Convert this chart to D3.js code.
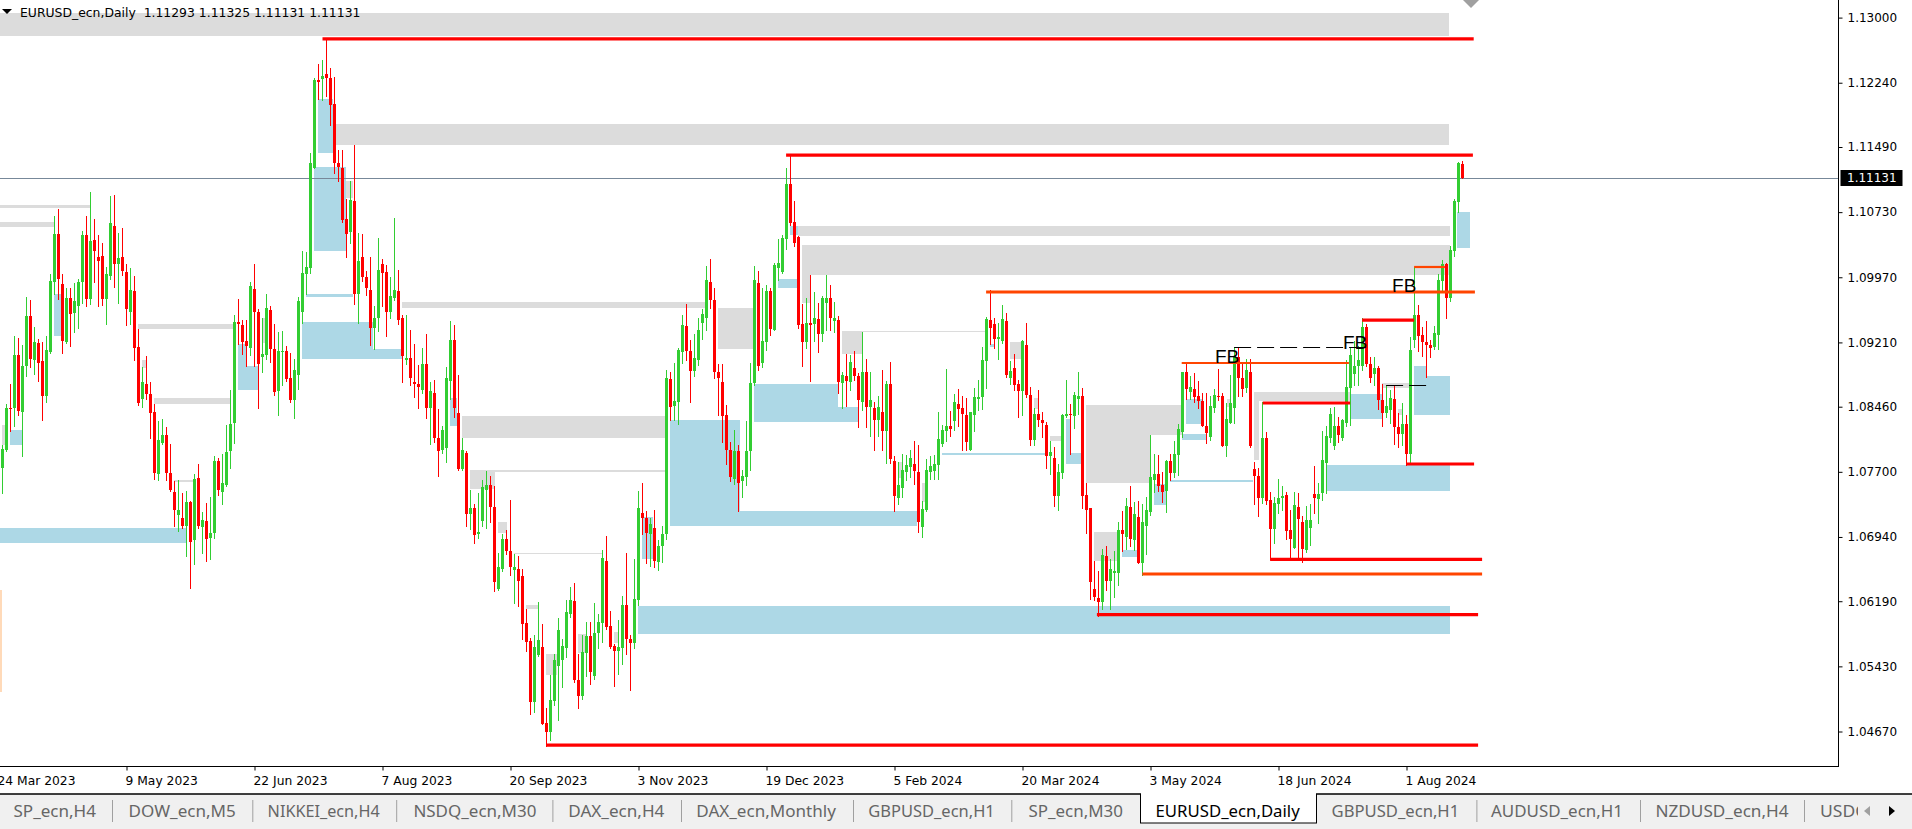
<!DOCTYPE html>
<html><head><meta charset="utf-8">
<script src="https://cdn.jsdelivr.net/npm/d3@7"></script>
<style>
html,body{margin:0;padding:0;background:#fff;overflow:hidden}
svg{display:block}
</style></head><body>
<script>
// ---------- DATA: daily EURUSD candles (bar 0 = 27 Mar 2023 ... bar 365 = 21 Aug 2024) ----------
const openP = [
1.0775,1.0795,1.0845,1.0844,1.0906,1.0840,1.0893,1.0952,1.0901,1.0920,
1.0899,1.0858,1.0910,1.0992,1.1048,1.0989,1.0922,1.0973,1.0955,1.0964,
1.0991,1.1046,1.0972,1.1041,1.1021,1.1022,1.0972,1.0998,1.1057,1.1012,
1.1021,1.1003,1.0956,1.0981,1.0916,1.0855,1.0872,1.0861,1.0840,1.0768,
1.0804,1.0813,1.0769,1.0746,1.0720,1.0716,1.0707,1.0735,1.0690,1.0763,
1.0706,1.0713,1.0693,1.0699,1.0783,1.0746,1.0755,1.0794,1.0827,1.0945,
1.0941,1.0923,1.0915,1.0983,1.0956,1.0904,1.0906,1.0959,1.0913,1.0864,
1.0910,1.0911,1.0880,1.0854,1.0883,1.0956,1.1001,1.1008,1.1125,1.1227,
1.1228,1.1234,1.1230,1.1199,1.1130,1.1124,1.1065,1.1050,1.1086,1.0977,
1.1021,1.0997,1.0982,1.0938,1.0949,1.1013,1.1003,1.0956,1.0973,1.0981,
1.0950,1.0900,1.0903,1.0875,1.0872,1.0865,1.0896,1.0845,1.0862,1.0810,
1.0795,1.0798,1.0876,1.0924,1.0839,1.0773,1.0792,1.0721,1.0728,1.0697,
1.0713,1.0749,1.0755,1.0729,1.0633,1.0657,1.0692,1.0678,1.0655,1.0657,
1.0648,1.0594,1.0573,1.0501,1.0556,1.0566,1.0477,1.0466,1.0503,1.0543,
1.0550,1.0565,1.0604,1.0619,1.0527,1.0508,1.0559,1.0578,1.0532,1.0582,
1.0594,1.0666,1.0590,1.0567,1.0561,1.0565,1.0615,1.0575,1.0570,1.0620,
1.0722,1.0716,1.0698,1.0704,1.0665,1.0683,1.0697,1.0878,1.0847,1.0852,
1.0910,1.0940,1.0911,1.0888,1.0900,1.0944,1.0949,1.0992,1.0971,1.0886,
1.0875,1.0836,1.0796,1.0762,1.0794,1.0759,1.0764,1.0794,1.0874,1.0990,
1.0897,1.0922,1.0981,1.0936,1.1008,1.1003,1.1042,1.1106,1.1061,1.1044,
1.0943,1.0921,1.0944,1.0943,1.0948,1.0931,1.0967,1.0973,1.0946,1.0947,
1.0874,1.0882,1.0875,1.0891,1.0882,1.0852,1.0886,1.0846,1.0844,1.0831,
1.0840,1.0818,1.0872,1.0783,1.0740,1.0751,1.0770,1.0776,1.0779,1.0770,
1.0706,1.0725,1.0770,1.0771,1.0778,1.0802,1.0818,1.0824,1.0829,1.0849,
1.0845,1.0836,1.0795,1.0836,1.0855,1.0857,1.0899,1.0947,1.0942,1.0925,
1.0923,1.0946,1.0879,1.0891,1.0872,1.0864,1.0918,1.0860,1.0807,1.0837,
1.0830,1.0825,1.0788,1.0786,1.0742,1.0769,1.0835,1.0837,1.0835,1.0855,
1.0858,1.0743,1.0728,1.0633,1.0623,1.0618,1.0672,1.0643,1.0652,1.0652,
1.0702,1.0694,1.0729,1.0690,1.0717,1.0664,1.0707,1.0723,1.0760,1.0767,
1.0755,1.0748,1.0783,1.0769,1.0790,1.0817,1.0886,1.0863,1.0867,1.0858,
1.0853,1.0823,1.0811,1.0844,1.0859,1.0858,1.0800,1.0827,1.0845,1.0904,
1.0879,1.0868,1.0887,1.0773,1.0765,1.0740,1.0809,1.0737,1.0703,1.0733,
1.0740,1.0743,1.0702,1.0681,1.0729,1.0711,1.0679,1.0704,1.0744,1.0738,
1.0745,1.0780,1.0810,1.0800,1.0823,1.0810,1.0827,1.0868,1.0884,1.0893,
1.0893,1.0939,1.0896,1.0884,1.0891,1.0854,1.0839,1.0842,1.0855,1.0822,
1.0814,1.0826,1.0791,1.0924,1.0953,1.0930,1.0921,1.0918,1.0916,1.0930,
1.0993,1.1013,1.0973,1.1028,1.1085,1.11293];
const highP = [
1.0801,1.0849,1.0872,1.0928,1.0926,1.0918,1.0974,1.0971,1.0939,1.0925,
1.0922,1.0929,1.1001,1.1069,1.1077,1.1001,1.0985,1.0985,1.0990,1.0995,
1.1051,1.1069,1.1096,1.1065,1.1046,1.1037,1.1009,1.1092,1.1093,1.1049,
1.1054,1.1013,1.1008,1.0999,1.0937,1.0892,1.0905,1.0875,1.0849,1.0829,
1.0832,1.0822,1.0803,1.0759,1.0760,1.0745,1.0748,1.0736,1.0768,1.0779,
1.0723,1.0734,1.0741,1.0788,1.0786,1.0791,1.0825,1.0866,1.0953,1.0972,
1.0947,1.0947,1.0991,1.1013,1.0960,1.0949,1.0977,1.0964,1.0942,1.0933,
1.0934,1.0917,1.0909,1.0902,1.0974,1.1028,1.1027,1.1142,1.1230,1.1246,
1.1251,1.1274,1.1241,1.1231,1.1146,1.1146,1.1088,1.1109,1.1151,1.1049,
1.1048,1.1004,1.1021,1.0964,1.1043,1.1018,1.1011,1.0997,1.1066,1.1005,
1.0953,1.0953,1.0936,1.0919,1.0895,1.0915,1.0931,1.0875,1.0877,1.0843,
1.0823,1.0892,1.0946,1.0941,1.0883,1.0810,1.0794,1.0749,1.0733,1.0745,
1.0761,1.0771,1.0765,1.0753,1.0675,1.0698,1.0702,1.0737,1.0674,1.0672,
1.0657,1.0610,1.0576,1.0580,1.0618,1.0592,1.0494,1.0533,1.0557,1.0600,
1.0575,1.0620,1.0636,1.0640,1.0558,1.0580,1.0595,1.0595,1.0617,1.0604,
1.0679,1.0695,1.0608,1.0569,1.0597,1.0625,1.0675,1.0580,1.0668,1.0748,
1.0757,1.0724,1.0716,1.0725,1.0691,1.0707,1.0889,1.0886,1.0897,1.0915,
1.0953,1.0966,1.0924,1.0931,1.0949,1.0960,1.1010,1.1018,1.0984,1.0896,
1.0896,1.0848,1.0805,1.0819,1.0801,1.0772,1.0829,1.0897,1.1010,1.1004,
1.0984,1.0988,1.0984,1.1014,1.1042,1.1046,1.1125,1.1140,1.1086,1.1045,
1.0966,1.0973,1.1000,1.0980,1.0967,1.0975,1.1000,1.0988,1.0968,1.0952,
1.0886,1.0908,1.0906,1.0911,1.0885,1.0933,1.0902,1.0887,1.0852,1.0858,
1.0889,1.0876,1.0898,1.0788,1.0782,1.0791,1.0790,1.0795,1.0806,1.0801,
1.0736,1.0785,1.0789,1.0790,1.0840,1.0825,1.0890,1.0841,1.0861,1.0867,
1.0858,1.0856,1.0840,1.0868,1.0877,1.0916,1.0951,1.0982,1.0949,1.0944,
1.0965,1.0955,1.0899,1.0907,1.0877,1.0924,1.0944,1.0869,1.0844,1.0865,
1.0840,1.0828,1.0806,1.0799,1.0779,1.0837,1.0877,1.0849,1.0863,1.0886,
1.0868,1.0757,1.0728,1.0666,1.0654,1.0680,1.0683,1.0668,1.0678,1.0711,
1.0724,1.0740,1.0753,1.0735,1.0736,1.0733,1.0741,1.0813,1.0791,1.0790,
1.0770,1.0784,1.0791,1.0806,1.0826,1.0887,1.0897,1.0882,1.0885,1.0876,
1.0862,1.0862,1.0858,1.0867,1.0890,1.0862,1.0850,1.0883,1.0916,1.0916,
1.0897,1.0902,1.0902,1.0782,1.0774,1.0852,1.0816,1.0747,1.0741,1.0762,
1.0753,1.0747,1.0725,1.0747,1.0745,1.0719,1.0730,1.0733,1.0777,1.0757,
1.0818,1.0823,1.0844,1.0846,1.0834,1.0832,1.0900,1.0916,1.0923,1.0917,
1.0949,1.0942,1.0904,1.0904,1.0893,1.0873,1.0870,1.0866,1.0871,1.0839,
1.0850,1.0836,1.0927,1.1009,1.0965,1.0939,1.0946,1.0924,1.0940,1.1001,
1.1017,1.1014,1.1033,1.1088,1.1132,1.11325];
const lowP = [
1.0745,1.0794,1.0818,1.0824,1.0836,1.0788,1.0882,1.0892,1.0884,1.0876,
1.0831,1.0852,1.0909,1.0977,1.0972,1.0909,1.0920,1.0917,1.0933,1.0938,
1.0967,1.0964,1.0966,1.0992,1.0963,1.0965,1.0942,1.0995,1.0986,1.0967,
1.1000,1.0941,1.0942,1.0900,1.0848,1.0846,1.0855,1.0810,1.0762,1.0760,
1.0803,1.0760,1.0748,1.0707,1.0701,1.0704,1.0672,1.0635,1.0662,1.0705,
1.0675,1.0666,1.0668,1.0693,1.0743,1.0733,1.0753,1.0774,1.0804,1.0919,
1.0907,1.0893,1.0906,1.0893,1.0845,1.0887,1.0902,1.0898,1.0860,1.0836,
1.0871,1.0876,1.0851,1.0833,1.0867,1.0944,1.0977,1.1002,1.1124,1.1205,
1.1204,1.1209,1.1175,1.1119,1.1109,1.1061,1.1021,1.1037,1.0966,1.0944,
1.0993,1.0976,1.0918,1.0913,1.0934,1.0964,1.0929,1.0950,1.0970,1.0943,
1.0875,1.0896,1.0871,1.0857,1.0845,1.0862,1.0833,1.0803,1.0805,1.0765,
1.0792,1.0782,1.0855,1.0834,1.0772,1.0772,1.0707,1.0703,1.0687,1.0693,
1.0707,1.0705,1.0711,1.0631,1.0632,1.0654,1.0674,1.0650,1.0617,1.0614,
1.0575,1.0561,1.0488,1.0490,1.0555,1.0476,1.0450,1.0457,1.0498,1.0481,
1.0519,1.0554,1.0601,1.0525,1.0495,1.0505,1.0532,1.0523,1.0528,1.0565,
1.0571,1.0587,1.0564,1.0520,1.0534,1.0546,1.0557,1.0516,1.0564,1.0615,
1.0698,1.0664,1.0660,1.0659,1.0656,1.0665,1.0692,1.0830,1.0830,1.0826,
1.0897,1.0900,1.0852,1.0882,1.0895,1.0925,1.0935,1.0961,1.0880,1.0836,
1.0805,1.0779,1.0759,1.0756,1.0724,1.0741,1.0755,1.0772,1.0871,1.0889,
1.0892,1.0912,1.0930,1.0935,1.0994,1.1002,1.1030,1.1058,1.1033,1.0938,
1.0893,1.0915,1.0876,1.0923,1.0910,1.0923,1.0936,1.0936,1.0933,1.0862,
1.0845,1.0847,1.0866,1.0877,1.0822,1.0842,1.0822,1.0812,1.0795,1.0812,
1.0795,1.0780,1.0780,1.0724,1.0733,1.0741,1.0760,1.0764,1.0756,1.0700,
1.0694,1.0724,1.0762,1.0762,1.0762,1.0800,1.0806,1.0812,1.0819,1.0823,
1.0796,1.0796,1.0795,1.0818,1.0842,1.0843,1.0868,1.0919,1.0915,1.0902,
1.0920,1.0881,1.0872,1.0865,1.0834,1.0836,1.0857,1.0801,1.0801,1.0823,
1.0811,1.0775,1.0768,1.0730,1.0725,1.0763,1.0834,1.0791,1.0821,1.0837,
1.0728,1.0699,1.0622,1.0620,1.0602,1.0610,1.0632,1.0610,1.0624,1.0638,
1.0678,1.0680,1.0684,1.0679,1.0664,1.0650,1.0674,1.0720,1.0746,1.0748,
1.0735,1.0723,1.0760,1.0764,1.0766,1.0811,1.0855,1.0855,1.0852,1.0845,
1.0823,1.0804,1.0807,1.0840,1.0854,1.0800,1.0788,1.0827,1.0827,1.0859,
1.0859,1.0863,1.0799,1.0733,1.0719,1.0734,1.0733,1.0668,1.0687,1.0722,
1.0725,1.0692,1.0671,1.0681,1.0671,1.0665,1.0677,1.0685,1.0722,1.0710,
1.0737,1.0745,1.0805,1.0797,1.0805,1.0807,1.0824,1.0825,1.0871,1.0871,
1.0889,1.0893,1.0875,1.0871,1.0843,1.0824,1.0834,1.0827,1.0803,1.0799,
1.0801,1.0778,1.0782,1.0916,1.0911,1.0905,1.0881,1.0904,1.0913,1.0913,
1.0982,1.0950,1.0969,1.1022,1.1073,1.11131];
const closeP = [
1.0797,1.0845,1.0843,1.0906,1.0841,1.0893,1.0952,1.0902,1.0922,1.0897,
1.0859,1.0912,1.0993,1.1048,1.0995,1.0923,1.0973,1.0954,1.0969,1.0991,
1.1046,1.0972,1.1039,1.1028,1.1016,1.0972,1.1001,1.1060,1.1012,1.1020,
1.1004,1.0960,1.0982,1.0915,1.0850,1.0875,1.0861,1.0839,1.0769,1.0807,
1.0813,1.0769,1.0749,1.0725,1.0725,1.0707,1.0735,1.0688,1.0762,1.0707,
1.0714,1.0692,1.0699,1.0783,1.0749,1.0757,1.0793,1.0826,1.0945,1.0942,
1.0922,1.0917,1.0987,1.0956,1.0896,1.0907,1.0961,1.0913,1.0863,1.0911,
1.0911,1.0878,1.0854,1.0889,1.0969,1.1002,1.1009,1.1130,1.1227,1.1225,
1.1232,1.1229,1.1198,1.1130,1.1126,1.1064,1.1048,1.1087,1.0977,1.1016,
1.0997,1.0985,1.0938,1.0950,1.1005,1.1002,1.0957,1.0975,1.0982,1.0947,
1.0905,1.0903,1.0879,1.0872,1.0869,1.0896,1.0845,1.0864,1.0810,1.0794,
1.0819,1.0880,1.0924,1.0845,1.0773,1.0795,1.0721,1.0728,1.0696,1.0700,
1.0752,1.0755,1.0729,1.0642,1.0659,1.0692,1.0678,1.0659,1.0659,1.0643,
1.0592,1.0572,1.0502,1.0566,1.0574,1.0476,1.0466,1.0504,1.0550,1.0585,
1.0567,1.0606,1.0620,1.0527,1.0508,1.0560,1.0578,1.0536,1.0582,1.0595,
1.0670,1.0589,1.0566,1.0561,1.0566,1.0615,1.0575,1.0570,1.0622,1.0728,
1.0716,1.0699,1.0709,1.0666,1.0684,1.0698,1.0880,1.0846,1.0853,1.0912,
1.0941,1.0911,1.0888,1.0903,1.0935,1.0954,1.0994,1.0970,1.0886,1.0879,
1.0835,1.0796,1.0764,1.0794,1.0757,1.0765,1.0794,1.0874,1.0994,1.0894,
1.0923,1.0981,1.0937,1.1011,1.1014,1.1043,1.1106,1.1060,1.1037,1.0941,
1.0921,1.0944,1.0941,1.0950,1.0931,1.0973,1.0973,1.0950,1.0949,1.0875,
1.0883,1.0876,1.0898,1.0882,1.0854,1.0886,1.0846,1.0854,1.0831,1.0846,
1.0818,1.0872,1.0785,1.0742,1.0755,1.0772,1.0778,1.0786,1.0771,1.0711,
1.0727,1.0772,1.0777,1.0779,1.0808,1.0819,1.0824,1.0820,1.0851,1.0843,
1.0837,1.0805,1.0840,1.0857,1.0857,1.0900,1.0948,1.0938,1.0925,1.0927,
1.0948,1.0883,1.0888,1.0871,1.0864,1.0923,1.0860,1.0807,1.0837,1.0830,
1.0827,1.0788,1.0793,1.0742,1.0770,1.0836,1.0837,1.0836,1.0860,1.0858,
1.0742,1.0726,1.0641,1.0624,1.0618,1.0673,1.0643,1.0657,1.0654,1.0702,
1.0698,1.0730,1.0692,1.0721,1.0664,1.0711,1.0725,1.0764,1.0768,1.0754,
1.0746,1.0783,1.0769,1.0791,1.0820,1.0886,1.0867,1.0869,1.0857,1.0853,
1.0823,1.0815,1.0847,1.0860,1.0857,1.0800,1.0832,1.0850,1.0905,1.0879,
1.0867,1.0889,1.0800,1.0765,1.0740,1.0809,1.0736,1.0703,1.0734,1.0740,
1.0742,1.0701,1.0692,1.0731,1.0715,1.0680,1.0714,1.0714,1.0740,1.0744,
1.0784,1.0812,1.0837,1.0824,1.0813,1.0830,1.0869,1.0906,1.0894,1.0900,
1.0939,1.0896,1.0879,1.0891,1.0854,1.0839,1.0847,1.0856,1.0822,1.0814,
1.0826,1.0791,1.0912,1.0953,1.0928,1.0922,1.0918,1.0915,1.0932,1.0994,
1.1013,1.0973,1.1029,1.1086,1.1130,1.11131];

const bidPrice = 1.11131;
const titleText = "EURUSD_ecn,Daily  1.11293 1.11325 1.11131 1.11131";

const priceTicks = [1.13000,1.12240,1.11490,1.10730,1.09970,1.09210,1.08460,1.07700,1.06940,1.06190,1.05430,1.04670];
const dateTickBars = [-1,31,63,95,127,159,191,223,255,287,319,351];
const dateTickLabels = ["24 Mar 2023","9 May 2023","22 Jun 2023","7 Aug 2023","20 Sep 2023","3 Nov 2023","19 Dec 2023","5 Feb 2024","20 Mar 2024","3 May 2024","18 Jun 2024","1 Aug 2024"];

// zones: bar-index span and price span; kind s = supply (grey), d = demand (blue), p = marker
const zoneStart = [-0.6,83.1,-0.6,-0.6,33.8,34.8,37.9,-0.2,42.9,64.8,85.9,99.8,114.8,116.9,116.9,123.8,130.9,127.9,135.9,143.9,152.9,178.8,198.8,199.8,199.8,209.8,214.8,223.8,229.8,251.9,257.9,261.9,270.9,270.9,272.95,306.05,312.9,312.9,344.8,348.9,
 12.9,1.9,-0.6,58.8,61.05,78.9,77.9,75.9,74.9,92.7,111.9,159.9,166.9,184.4,158.95,196.9,193.8,187.9,208.8,234.8,246.9,265.9,266.9,295.9,294.9,279.9,287.9,291.9,363.7,336.9,352.9,356.1,330.9,
 -0.6];
const zoneEnd = [361.6,361.6,21.9,12.9,57.6,35.8,56.9,0.9,47.9,65.8,87.7,176.0,165.8,123.1,165.8,126.05,133.9,149.8,138.55,146.05,153.9,187.7,361.9,361.9,201.9,214.8,245.6,224.8,230.8,254.8,258.95,264.8,294.8,287.05,278.55,306.9,336.9,314.0,351.9,349.9,
 14.6,4.95,46.05,61.05,63.95,82.7,85.9,87.7,92.7,99.8,113.55,162.7,184.4,228.55,361.9,198.8,198.55,208.8,213.95,260.6,248.1,266.9,269.8,299.8,301.05,283.55,290.9,312.7,366.9,344.8,356.1,361.9,361.9,
 -0.1];
const zoneTop = [1.13048,1.11764,1.10813,1.10615,1.09425,1.09005,1.08561,1.08246,1.07604,1.09495,1.11090,1.09685,1.08350,1.07721,1.07721,1.07118,1.06146,1.06756,1.05574,1.05808,1.05831,1.09615,1.10568,1.10346,1.09996,1.09343,1.09343,1.07818,1.07573,1.09215,1.08558,1.08118,1.08480,1.08130,1.07001,1.08550,1.08635,1.08526,1.08740,1.08433,
 1.09775,1.08188,1.07044,1.09191,1.08935,1.12056,1.11256,1.09775,1.09448,1.09133,1.08561,1.07176,1.08304,1.07243,1.06134,1.10568,1.09950,1.08724,1.08459,1.07916,1.09191,1.08313,1.07923,1.08550,1.08141,1.06788,1.07558,1.07604,1.10735,1.08608,1.08935,1.08818,1.07780,
 1.06321];
const zoneBottom = [1.12785,1.11513,1.10782,1.10560,1.09370,1.08915,1.08495,1.08013,1.07584,1.09203,1.10900,1.09611,1.08098,1.07499,1.07701,1.06983,1.06099,1.06737,1.05330,1.05586,1.05702,1.09133,1.10451,1.09996,1.09666,1.09075,1.09328,1.07628,1.07351,1.09013,1.08430,1.08060,1.08130,1.07573,1.06659,1.08460,1.08526,1.07838,1.08674,1.08363,
 1.09285,1.08013,1.06866,1.08655,1.08655,1.11424,1.10280,1.09740,1.09016,1.09016,1.08234,1.06683,1.07071,1.07071,1.05808,1.10463,1.09848,1.08285,1.08285,1.07896,1.09160,1.07791,1.07791,1.08258,1.08071,1.06703,1.07313,1.07581,1.10315,1.08316,1.08363,1.08363,1.07476,
 1.05131];
const zoneKind = "ssssssssssssssssssssssssssssssssssssssss".split("")
  .concat("ddddddddddddddddddddddddddddddddd".split(""), ["p"]);

// horizontal level lines: r = swing level (red), o = broken level (orange-red), t = thin orange
const levelStart = [80,195.9,245.9,294.8,352.9,339.9,315.05,350.9,316.9,284.95,273.6,135.9];
const levelEnd   = [367.8,367.6,368.1,336.6,360.6,352.9,336.9,367.9,369.9,369.9,368.9,368.9];
const levelPrice = [1.12752,1.11396,1.09798,1.08970,1.10090,1.09471,1.08503,1.07791,1.06679,1.06508,1.06034,1.04512];
const levelKind  = ["r","r","o","t","t","r","r","r","r","o","r","r"];

// dashed marker lines
const dashStart = [307.9,345.9];
const dashEnd   = [342.4,355.9];
const dashPrice = [1.09157,1.08713];

// "FB" labels
const fbBar   = [303.1,335.1,347.4];
const fbPrice = [1.08975,1.09133,1.09798];

// bottom tab bar (terminal chart tabs)
const tabLabels = ["SP_ecn,H4","DOW_ecn,M5","NIKKEI_ecn,H4","NSDQ_ecn,M30","DAX_ecn,H4","DAX_ecn,Monthly","GBPUSD_ecn,H1","SP_ecn,M30","EURUSD_ecn,Daily","GBPUSD_ecn,H1","AUDUSD_ecn,H1","NZDUSD_ecn,H4","USDCAD_ecn,H1"];
const activeTab = 8;

// ---------- LAYOUT ----------
const W = 1912, H = 829, plotR = 1838, plotB = 766;
const tabTextX = [13.5,128.6,267.6,413.4,568.3,696.3,868.3,1028.5,1155.5,1331.6,1491,1655.5,1820];
const tabTextW = [82.5,107.2,112.1,123,96.1,139.6,126.5,94.5,144.2,127.6,132,133.1,135];
const tabSepX = [112,252.3,396.2,552.4,681,853,1011.3,1476.4,1640,1804];

const x = d3.scaleLinear().domain([0, 365]).range([2.5, 1462.5]);
const y = d3.scaleLinear().domain([1.0467, 1.13]).range([731.5, 17.6]);

const svg = d3.select("body").append("svg").attr("width", W).attr("height", H)
  .style("font-family", "'DejaVu Sans', Verdana, sans-serif");
svg.append("rect").attr("width", W).attr("height", H).attr("fill", "#fff");
svg.append("defs").append("clipPath").attr("id", "cp")
  .append("rect").attr("x", 0).attr("y", 0).attr("width", plotR).attr("height", plotB);
svg.append("defs").append("clipPath").attr("id", "cpTab")
  .append("rect").attr("x", 0).attr("y", 790).attr("width", 1858).attr("height", 40);

const g = svg.append("g").attr("clip-path", "url(#cp)");

// zones
const zoneFill = { s: "#dcdcdc", d: "#add8e6", p: "#ffdab9" };
const zones = zoneStart.map((s, k) => ({ s, e: zoneEnd[k], t: zoneTop[k], b: zoneBottom[k], k: zoneKind[k] }));
g.append("g").attr("shape-rendering", "crispEdges").selectAll("rect").data(zones).join("rect")
  .attr("x", d => x(d.s)).attr("width", d => Math.max(1, x(d.e) - x(d.s)))
  .attr("y", d => y(d.t)).attr("height", d => Math.max(1, y(d.b) - y(d.t)))
  .attr("fill", d => zoneFill[d.k]);

// bid line
g.append("line").attr("x1", 0).attr("x2", plotR)
  .attr("y1", Math.round(y(bidPrice)) + 0.5).attr("y2", Math.round(y(bidPrice)) + 0.5)
  .attr("stroke", "#778899").attr("stroke-width", 1);

// candles
const bars = openP.map((o, i) => ({ i, o, h: highP[i], l: lowP[i], c: closeP[i] }));
const cg = g.append("g").attr("shape-rendering", "crispEdges");
const col = d => d.c >= d.o ? "#32cd32" : "#ff0000";
cg.selectAll("rect.w").data(bars).join("rect").attr("class", "w")
  .attr("x", d => Math.floor(x(d.i))).attr("width", 1)
  .attr("y", d => Math.round(y(d.h)))
  .attr("height", d => Math.max(1, Math.round(y(d.l)) - Math.round(y(d.h)) + 1))
  .attr("fill", col);
cg.selectAll("rect.b").data(bars).join("rect").attr("class", "b")
  .attr("x", d => Math.floor(x(d.i)) - 1).attr("width", 3)
  .attr("y", d => Math.round(y(Math.max(d.o, d.c))))
  .attr("height", d => Math.max(1, Math.round(y(Math.min(d.o, d.c))) - Math.round(y(Math.max(d.o, d.c)))))
  .attr("fill", col);

// level lines
const levelStyle = { r: ["#ff0000", 3.2], o: ["#ff4500", 3.2], t: ["#ff4500", 2.2] };
const levels = levelStart.map((s, k) => ({ s, e: levelEnd[k], p: levelPrice[k], k: levelKind[k] }));
g.append("g").selectAll("line").data(levels).join("line")
  .attr("x1", d => x(d.s)).attr("x2", d => x(d.e))
  .attr("y1", d => y(d.p)).attr("y2", d => y(d.p))
  .attr("stroke", d => levelStyle[d.k][0]).attr("stroke-width", d => levelStyle[d.k][1]);

// dashed lines
g.append("g").selectAll("line").data(dashStart.map((s, k) => ({ s, e: dashEnd[k], p: dashPrice[k] }))).join("line")
  .attr("x1", d => x(d.s)).attr("x2", d => x(d.e))
  .attr("y1", d => Math.round(y(d.p)) + 0.5).attr("y2", d => Math.round(y(d.p)) + 0.5)
  .attr("stroke", "#000").attr("stroke-width", 1).attr("stroke-dasharray", "17,6");

// FB labels
g.append("g").selectAll("text").data(fbBar.map((b, k) => ({ b, p: fbPrice[k] }))).join("text")
  .attr("x", d => x(d.b)).attr("y", d => y(d.p))
  .attr("font-family", "'Liberation Sans', Arial, sans-serif").attr("font-size", 19)
  .attr("fill", "#000").text("FB");

// chart shift marker
svg.append("path").attr("d", "M1463,0 L1479,0 L1471,8 Z").attr("fill", "#a0a0a0");

// borders
svg.append("line").attr("x1", plotR + 0.5).attr("x2", plotR + 0.5).attr("y1", 0).attr("y2", plotB + 1).attr("stroke", "#000");
svg.append("line").attr("x1", 0).attr("x2", plotR + 1).attr("y1", plotB + 0.5).attr("y2", plotB + 0.5).attr("stroke", "#000");

// right price axis
const ya = svg.append("g").attr("transform", `translate(${plotR + 0.5},0)`)
  .call(d3.axisRight(y).tickValues(priceTicks).tickFormat(d3.format(".5f")).tickSize(4).tickPadding(5));
ya.select(".domain").remove();
ya.selectAll("text").attr("font-family", "'DejaVu Sans', Verdana, sans-serif").attr("font-size", 12).attr("fill", "#000");
ya.selectAll("line").attr("stroke", "#000");

// bid price label
svg.append("rect").attr("x", 1840.5).attr("y", Math.round(y(bidPrice)) - 8).attr("width", 62).attr("height", 16).attr("fill", "#000");
svg.append("text").attr("x", 1847).attr("y", y(bidPrice)).attr("dy", "0.35em")
  .attr("font-size", 12).attr("fill", "#fff").text(d3.format(".5f")(bidPrice));

// bottom date axis
const xa = svg.append("g").attr("transform", `translate(0,${plotB + 0.5})`)
  .call(d3.axisBottom(x).tickValues(dateTickBars).tickFormat((d, k) => dateTickLabels[k]).tickSize(4).tickPadding(6));
xa.select(".domain").remove();
xa.selectAll("line").attr("stroke", "#000");
xa.selectAll("text").attr("text-anchor", "start").attr("dx", -1.5)
  .attr("font-family", "'DejaVu Sans', Verdana, sans-serif").attr("font-size", 12.3).attr("fill", "#000");

// title
svg.append("path").attr("d", "M2,9 L12,9 L7,14 Z").attr("fill", "#000");
svg.append("text").attr("x", 20).attr("y", 16.5).attr("font-size", 12.4).attr("fill", "#000")
  .style("white-space", "pre").attr("xml:space", "preserve").text(titleText);

// tab bar
const tb = svg.append("g");
tb.append("rect").attr("x", 0).attr("y", 794).attr("width", W).attr("height", 35).attr("fill", "#f0f0f0");
tb.append("line").attr("x1", 0).attr("x2", W).attr("y1", 794).attr("y2", 794).attr("stroke", "#000").attr("stroke-width", 1.6);
tb.append("rect").attr("x", 1140.5).attr("y", 794.5).attr("width", 176).attr("height", 28.5)
  .attr("fill", "#fff").attr("stroke", "#000").attr("stroke-width", 1);
tb.append("rect").attr("x", 1141).attr("y", 793).attr("width", 175).attr("height", 3).attr("fill", "#fff");
tb.selectAll("line.sep").data(tabSepX).join("line").attr("class", "sep")
  .attr("x1", d => d + 0.5).attr("x2", d => d + 0.5).attr("y1", 800).attr("y2", 822)
  .attr("stroke", "#a0a0a0");
tb.append("g").attr("clip-path", "url(#cpTab)").selectAll("text").data(tabLabels).join("text")
  .attr("x", (d, k) => tabTextX[k]).attr("y", 817)
  .attr("textLength", (d, k) => tabTextW[k]).attr("lengthAdjust", "spacingAndGlyphs")
  .attr("font-family", "'Noto Sans', 'Open Sans', sans-serif").attr("font-size", 16.5)
  .attr("fill", (d, k) => k === activeTab ? "#000" : "#666").text(d => d);
tb.append("rect").attr("x", 1858).attr("y", 796).attr("width", 54).attr("height", 30).attr("fill", "#f0f0f0");
tb.append("path").attr("d", "M1870,806 L1870,816 L1864,811 Z").attr("fill", "#a0a0a0");
tb.append("path").attr("d", "M1889,806 L1889,816 L1895,811 Z").attr("fill", "#000");
</script>
</body></html>
